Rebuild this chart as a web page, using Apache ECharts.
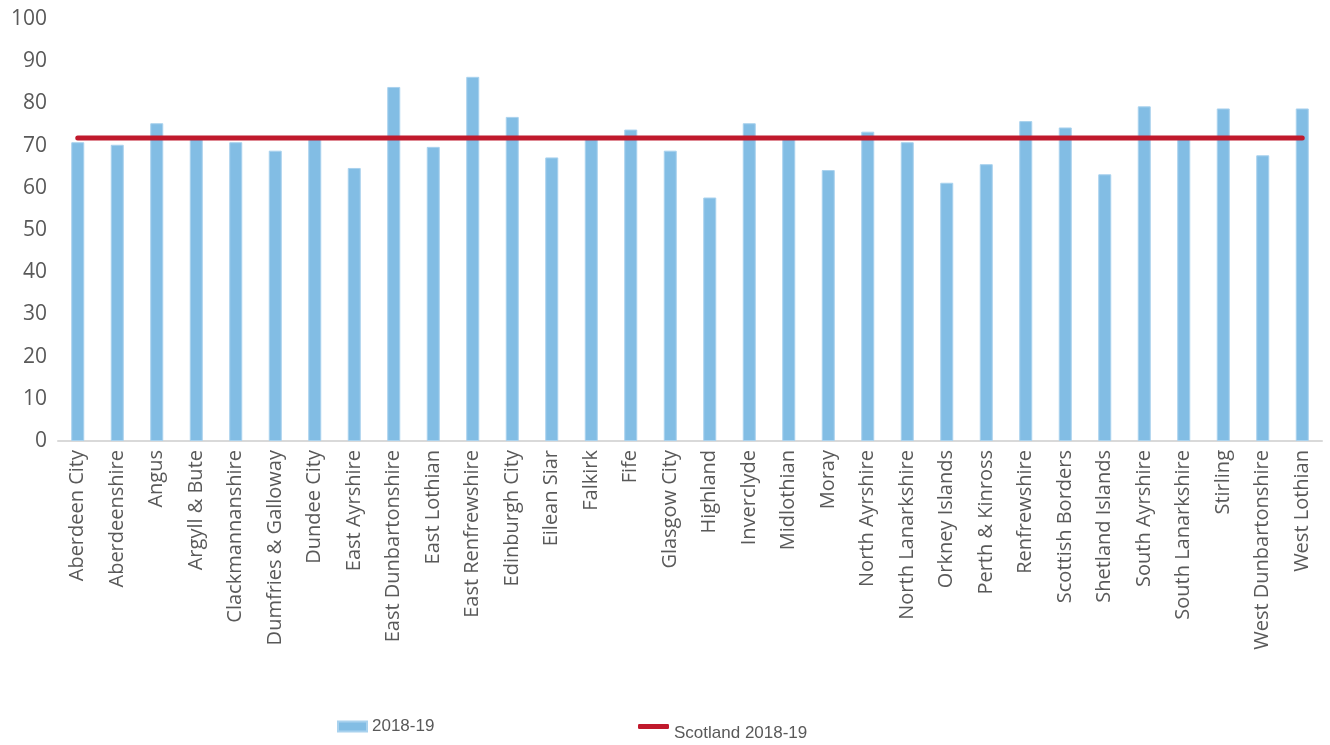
<!DOCTYPE html>
<html>
<head>
<meta charset="utf-8">
<script src="https://cdn.jsdelivr.net/npm/echarts@6/dist/echarts.min.js"></script>
<style>
  html, body { margin: 0; padding: 0; background: #fff; }
  #container { width: 1330px; height: 745px; }
</style>
</head>
<body>
<div id="container"></div>
<script>
var councils = [
  "Aberdeen City", "Aberdeenshire", "Angus", "Argyll & Bute", "Clackmannanshire",
  "Dumfries & Galloway", "Dundee City", "East Ayrshire", "East Dunbartonshire",
  "East Lothian", "East Renfrewshire", "Edinburgh City", "Eilean Siar", "Falkirk",
  "Fife", "Glasgow City", "Highland", "Inverclyde", "Midlothian", "Moray",
  "North Ayrshire", "North Lanarkshire", "Orkney Islands", "Perth & Kinross",
  "Renfrewshire", "Scottish Borders", "Shetland Islands", "South Ayrshire",
  "South Lanarkshire", "Stirling", "West Dunbartonshire", "West Lothian"
];
var values201819 = [
  70.8, 70.2, 75.3, 72, 70.8, 68.8, 72, 64.7, 83.9, 69.7,
  86.3, 76.8, 67.2, 71.8, 73.8, 68.8, 57.7, 75.3, 71.8, 64.2,
  73.3, 70.8, 61.2, 65.6, 75.8, 74.3, 63.2, 79.3, 71.8, 78.8,
  67.7, 78.8
];
var scotlandValue = 71.8;
var yTicks = { min: 0, max: 100, interval: 10 };

var scotlandLine = councils.map(function () { return scotlandValue; });

var chartDom = document.getElementById("container");
var myChart = echarts.init(chartDom);
var textColor = "#595959";
var option = {
  animation: false,
  grid: {
    left: 58,
    right: 8,
    top: 19,
    bottom: 304
  },
  legend: [
    {
      data: ["2018-19"],
      left: 337,
      top: 718,
      padding: 0,
      itemWidth: 29,
      itemHeight: 10,
      itemGap: 3,
      icon: "rect",
      textStyle: {
        color: textColor,
        fontSize: 17,
        fontFamily: "Liberation Sans"
      }
    },
    {
      data: ["Scotland 2018-19"],
      left: 638,
      top: 724,
      padding: 0,
      itemWidth: 31,
      itemHeight: 5,
      icon: "roundRect",
      formatter: "{low|{name}}",
      textStyle: {
        color: textColor,
        fontSize: 17,
        fontFamily: "Liberation Sans",
        rich: {
          low: {
            color: textColor,
            fontSize: 17,
            fontFamily: "Liberation Sans",
            padding: [14, 0, 0, 0]
          }
        }
      }
    }
  ],
  xAxis: {
    type: "category",
    data: councils,
    boundaryGap: true,
    axisLine: { lineStyle: { color: "#d9d9d9", width: 2 } },
    axisTick: { show: false },
    axisLabel: {
      rotate: 90,
      interval: 0,
      margin: 9,
      color: textColor,
      fontSize: 20,
      fontFamily: "Open Sans"
    }
  },
  yAxis: {
    type: "value",
    min: yTicks.min,
    max: yTicks.max,
    interval: yTicks.interval,
    axisLine: { show: false },
    axisTick: { show: false },
    splitLine: { show: false },
    axisLabel: {
      margin: 11,
      color: textColor,
      fontSize: 21,
      fontFamily: "Open Sans"
    }
  },
  series: [
    {
      name: "2018-19",
      type: "bar",
      data: values201819,
      barWidth: 13,
      itemStyle: {
        color: "#82BDE4",
        borderColor: "#A9D2EE",
        borderWidth: 1
      },
      z: 2
    },
    {
      name: "Scotland 2018-19",
      type: "line",
      data: scotlandLine,
      symbol: "none",
      lineStyle: { color: "#C0192C", width: 5, cap: "round" },
      itemStyle: { color: "#C0192C" },
      z: 3
    }
  ]
};
option && myChart.setOption(option);
</script>
</body>
</html>
